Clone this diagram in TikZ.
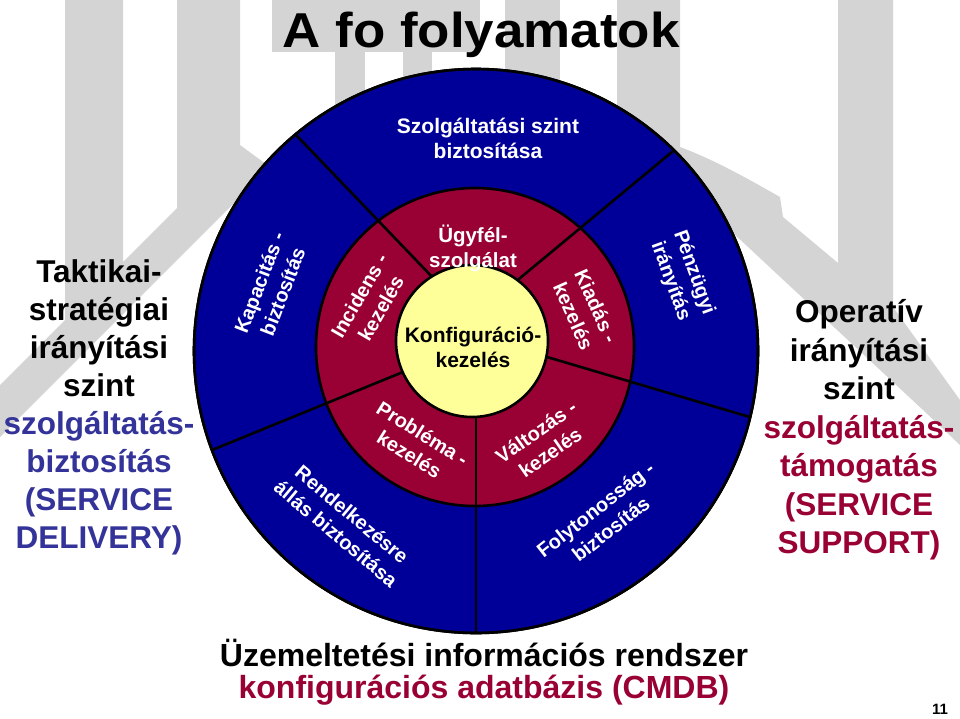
\documentclass[tikz,border=0pt]{standalone}
\usepackage{fontspec}
\setmainfont{Liberation Sans}
\definecolor{RingBlue}{RGB}{0,0,153}
\definecolor{RingRed}{RGB}{153,0,51}
\definecolor{CoreYellow}{RGB}{255,255,153}
\definecolor{DeliveryBlue}{RGB}{51,51,153}
\definecolor{LogoGray}{RGB}{212,212,212}
\usepackage{tikz}

\begin{document}
\begin{tikzpicture}[x=1pt,y=-1pt,
  ring/.style={draw=black,line width=2.6pt},
  divider/.style={draw=black,line width=2.6pt},
  watermark/.style={fill=LogoGray},
  seglabel/.style={text=white,align=center,font=\bfseries\fontsize{20}{25}\selectfont},
  sidelabel/.style={align=center,font=\bfseries\fontsize{31.5}{38}\selectfont}]
  \useasboundingbox[fill=white] (0,0) rectangle (960,718);

  % logo behind everything
  \fill[watermark] (65,0) -- (123,0) -- (123,262) -- (177,208) -- (177,0) -- (240,0) -- (240,145) -- (270,167) -- (0,437) -- (0,385) -- (65,320) -- cycle;
  \fill[watermark] (617,0) -- (680,0) -- (680,147) .. controls (715,160) and (750,180) .. (780,197) -- (783,217) -- (838,263) -- (838,0) -- (893,0) -- (893,307) -- (960,400) -- (960,445) -- (923,410) -- (733,233) -- (640,195) -- (617,150) -- cycle;
  \fill[watermark] (272,0) rectangle (480,52);
  \fill[watermark] (335,0) rectangle (365,120);
  \fill[watermark] (403,0) rectangle (432,110);
  \fill[watermark] (505,0) rectangle (560,120);

  % wheel
  \path[ring,fill=RingBlue] (476,351) circle[radius=282pt];
  \path[ring,fill=RingRed] (475,347) circle[radius=159pt];
  \begin{scope}
    \clip (476,351) circle[radius=282pt];
    \draw[divider] (460,306) -- (275,113);
    \draw[divider] (490,303) -- (690,137);
    \draw[divider] (520,349) -- (770,423);
    \draw[divider] (476,380) -- (476,650);
    \draw[divider] (430,361) -- (190,459);
  \end{scope}
  \draw[ring] (476,351) circle[radius=282pt];
  \path[ring,fill=CoreYellow] (472,341) circle[radius=76pt];

  % labels of the wheel
  \node[align=center,font=\bfseries\fontsize{21}{25}\selectfont] (config) at (473,347) {Konfiguráció-\\kezelés};
  \node[seglabel,font=\bfseries\fontsize{20.5}{25}\selectfont] (servicedesk) at (473,248) {Ügyfél-\\szolgálat};
  \node[seglabel,rotate=60] (incident) at (370,302) {Incidens -\\kezelés};
  \node[seglabel,rotate=-66] (release) at (585,311) {Kiadás -\\kezelés};
  \node[seglabel,rotate=-32] (problem) at (416,444) {Probléma -\\kezelés};
  \node[seglabel,rotate=35] (change) at (543,442) {Változás -\\kezelés};
  \node[seglabel,font=\bfseries\fontsize{21}{25}\selectfont] (sla) at (488,138) {Szolgáltatási szint\\biztosítása};
  \node[seglabel,rotate=69] (capacity) at (271,287) {Kapacitás -\\biztosítás};
  \node[seglabel,rotate=-70] (finance) at (682,277) {Pénzügyi\\irányítás};
  \node[seglabel,rotate=-40] (availability) at (344,524) {Rendelkezésre\\állás biztosítása};
  \node[seglabel,rotate=38] (continuity) at (603,519) {Folytonosság -\\biztosítás};

  % title and side texts
  \node[anchor=base,xscale=1.08,font=\bfseries\fontsize{49}{56}\selectfont] (title) at (481,47) {A fo folyamatok};
  \node[sidelabel] (tactical) at (99,407) {Taktikai-\\stratégiai\\irányítási\\szint\\\textcolor{DeliveryBlue}{szolgáltatás-}\\\textcolor{DeliveryBlue}{biztosítás}\\\textcolor{DeliveryBlue}{(SERVICE}\\\textcolor{DeliveryBlue}{DELIVERY)}};
  \node[sidelabel,font=\bfseries\fontsize{31.5}{38.5}\selectfont] (operative) at (859,430) {Operatív\\irányítási\\szint\\\textcolor{RingRed}{szolgáltatás-}\\\textcolor{RingRed}{támogatás}\\\textcolor{RingRed}{(SERVICE}\\\textcolor{RingRed}{SUPPORT)}};
  \node[anchor=base,font=\bfseries\fontsize{32}{32}\selectfont] (opsys) at (484,666) {Üzemeltetési információs rendszer};
  \node[anchor=base,text=RingRed,font=\bfseries\fontsize{32}{32}\selectfont] (cmdb) at (484,698) {konfigurációs adatbázis (CMDB)};
  \node[anchor=base,font=\bfseries\fontsize{15}{15}\selectfont] (pagenum) at (940,714) {11};
\end{tikzpicture}
\end{document}
